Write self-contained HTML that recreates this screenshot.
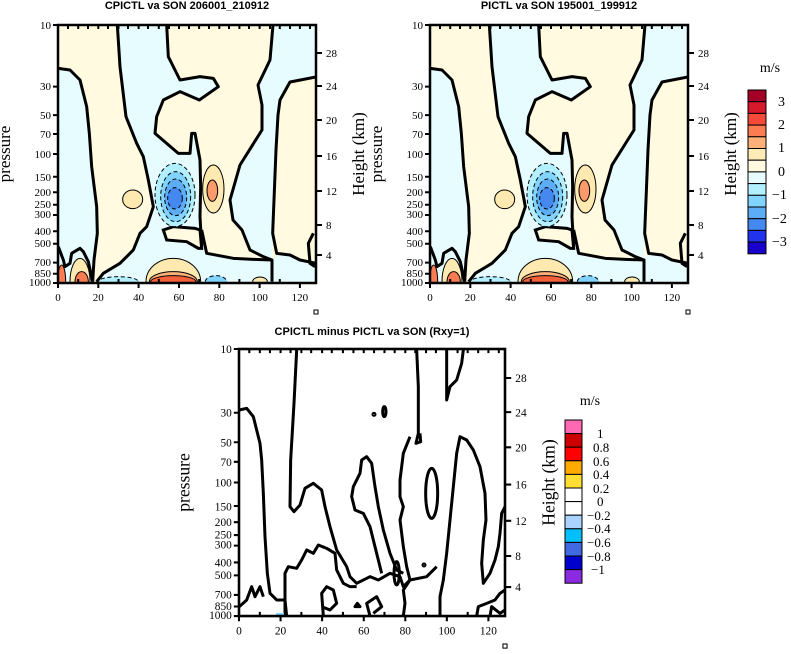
<!DOCTYPE html>
<html><head><meta charset="utf-8"><style>
html,body{margin:0;padding:0;background:#fff;overflow:hidden;}
svg text{font-family:"Liberation Serif",serif;}
</style></head><body>
<svg width="791" height="649" viewBox="0 0 791 649" xmlns="http://www.w3.org/2000/svg">
<defs>
<clipPath id="cp"><rect x="175" y="75" width="773" height="772"/></clipPath>
<clipPath id="cp2"><rect x="208" y="88" width="797" height="800"/></clipPath>
<g id="cont">
 <g transform="scale(0.33333)">
 <g clip-path="url(#cp)">
  <rect x="175" y="75" width="773" height="772" fill="#fffae0"/>
  <path fill="#e6fcff" d="M175,205 L210,210 L240,240 L260,320 L268,400 L275,500 L290,620 L292,700 L282,780 L278,845 L175,845 Z"/>
  <path fill="#e6fcff" d="M352,75 L500,75 L505,170 L540,240 L600,230 L640,235 L655,260 L598,300 L540,275 L490,300 L470,350 L465,400 L535,460 L570,460 L575,400 L585,400 L600,480 L602,560 L600,650 L605,690 L620,760 L700,775 L760,778 L816,780 L816,845 L290,845 L310,820 L360,790 L400,750 L420,700 L440,680 L460,620 L445,540 L430,470 L410,430 L378,350 L360,200 Z"/>
  <path fill="#e6fcff" d="M819,75 L948,75 L948,231 L870,246 L840,300 L834,345 L828,450 L822,600 L818,700 L816,780 L790,770 L750,750 L726,690 L699,660 L690,600 L720,495 L786,390 L786,315 L774,255 L810,180 Z"/>
  <path fill="#e6fcff" d="M816,780 L830,760 L870,765 L900,780 L948,790 L948,845 L816,845 Z"/>
  <path fill="#fffae0" d="M948,231 L870,246 L840,300 L834,345 L828,450 L822,600 L818,700 L830,760 L870,765 L900,780 L948,790 Z"/>
  <path fill="#fffae0" stroke="#000" stroke-width="9" d="M490,690 L520,680 L585,685 L600,690 L605,745 L595,745 L560,725 L500,720 Z"/>
  <ellipse cx="525" cy="585" rx="60" ry="95" fill="#b3f0ff" stroke="#000" stroke-width="3" stroke-dasharray="12,8"/>
  <ellipse cx="527" cy="590" rx="45" ry="75" fill="#80d4ff" stroke="#000" stroke-width="3" stroke-dasharray="12,8"/>
  <ellipse cx="527" cy="592" rx="33" ry="55" fill="#5cadf5" stroke="#000" stroke-width="3" stroke-dasharray="12,8"/>
  <ellipse cx="525" cy="595" rx="22" ry="32" fill="#4488f0" stroke="#000" stroke-width="3" stroke-dasharray="12,8"/>
  <ellipse cx="640" cy="567" rx="32" ry="72" fill="#fee9b0" stroke="#000" stroke-width="3"/>
  <ellipse cx="637" cy="572" rx="16" ry="32" fill="#fb9a6a" stroke="#000" stroke-width="3"/>
  <ellipse cx="398" cy="598" rx="30" ry="28" fill="#fee9b0" stroke="#000" stroke-width="3"/>
  <ellipse cx="520" cy="845" rx="82" ry="70" fill="#fee9b0" stroke="#000" stroke-width="3"/>
  <ellipse cx="520" cy="845" rx="72" ry="30" fill="#fdb07a" stroke="#000" stroke-width="3"/>
  <ellipse cx="520" cy="845" rx="68" ry="18" fill="#f5603a" stroke="#000" stroke-width="3"/>
  <ellipse cx="240" cy="845" rx="30" ry="70" fill="#fee9b0" stroke="#000" stroke-width="3"/>
  <ellipse cx="245" cy="845" rx="20" ry="30" fill="#fb7b52" stroke="#000" stroke-width="3"/>
  <ellipse cx="185" cy="845" rx="12" ry="50" fill="#fb7b52" stroke="#000" stroke-width="3"/>
  <ellipse cx="355" cy="845" rx="60" ry="15" fill="#b3f0ff" stroke="#000" stroke-width="3" stroke-dasharray="12,8"/>
  <ellipse cx="648" cy="845" rx="32" ry="18" fill="#80d4ff" stroke="#000" stroke-width="3" stroke-dasharray="12,8"/>
  <ellipse cx="780" cy="845" rx="22" ry="14" fill="#fee9b0" stroke="#000" stroke-width="3"/>
  <g fill="none" stroke="#000" stroke-width="9" stroke-linejoin="round">
   <path d="M175,205 L210,210 L240,240 L260,320 L268,400 L275,500 L290,620 L292,700 L282,780 L278,845"/>
   <path d="M352,75 L360,200 L378,350 L410,430 L430,470 L445,540 L460,620 L440,680 L420,700 L400,750 L360,790 L310,820 L290,845"/>
   <path d="M500,75 L505,170 L540,240 L600,230 L640,235 L655,260 L598,300 L540,275 L490,300 L470,350 L465,400 L535,460 L570,460 L575,400 L585,400 L600,480 L602,560 L600,650 L605,740"/>
   <path d="M605,690 L620,760 L700,775 L760,778 L816,780 L816,845"/>
   <path d="M819,75 L810,180 L774,255 L786,315 L786,390 L720,495 L690,600 L699,660 L726,690 L750,750 L790,770 L816,780"/>
   <path d="M948,231 L870,246 L840,300 L834,345 L828,450 L822,600 L818,700 L830,760 L870,765 L900,780 L948,790"/>
   <path d="M175,740 L190,780 L195,800 L210,790 L215,760 L240,745 L250,755 L265,785 L278,845"/>
   <path d="M940,700 L925,730 L930,790 L945,800"/>
  </g>
 </g>
 </g>
</g>
<g id="ax">
 <rect x="0" y="0" width="258" height="258" fill="none" stroke="#000" stroke-width="2.5"/>
 <g stroke="#000" stroke-width="2">
  <path d="M-5,0H0M-5,61.6H0M-5,90.1H0M-5,109H0M-5,129H0M-5,151.7H0M-5,167.3H0M-5,179.8H0M-5,190H0M-5,206.2H0M-5,218.7H0M-5,237.6H0M-5,248.8H0M-5,258H0"/>
  <path d="M0,258V263M40.3,258V263M80.6,258V263M121,258V263M161.3,258V263M201.6,258V263M241.9,258V263"/>
  <path d="M20.2,258V254M60.5,258V254M100.8,258V254M141.1,258V254M181.4,258V254M221.8,258V254"/>
  <path d="M10,0V4M20.2,0V4M30,0V4M40.3,0V4M50,0V4M60.5,0V4M70,0V4M80.6,0V4M90,0V4M100.8,0V4M111,0V4M121,0V4M131,0V4M141.1,0V4M151,0V4M161.3,0V4M171,0V4M181.4,0V4M191,0V4M201.6,0V4M212,0V4M221.8,0V4M232,0V4M241.9,0V4M252,0V4"/>
  <path d="M258,28H264M258,61H264M258,95H264M258,131H264M258,166H264M258,200H264M258,230H264"/>
 </g>
 <rect x="256" y="285" width="4" height="4" fill="none" stroke="#000" stroke-width="1"/>
 <g font-size="11" text-anchor="end">
  <text x="-7" y="4">10</text><text x="-7" y="65">30</text><text x="-7" y="94">50</text><text x="-7" y="113">70</text><text x="-7" y="133">100</text><text x="-7" y="156">150</text><text x="-7" y="171">200</text><text x="-7" y="183">250</text><text x="-7" y="193">300</text><text x="-7" y="210">400</text><text x="-7" y="222">500</text><text x="-7" y="241">700</text><text x="-7" y="252">850</text><text x="-7" y="261">1000</text>
 </g>
 <g font-size="11" text-anchor="middle">
  <text x="0" y="276">0</text><text x="40.3" y="276">20</text><text x="80.6" y="276">40</text><text x="121" y="276">60</text><text x="161.3" y="276">80</text><text x="201.6" y="276">100</text><text x="241.9" y="276">120</text>
 </g>
 <g font-size="11">
  <text x="268" y="32">28</text><text x="268" y="65">24</text><text x="268" y="99">20</text><text x="268" y="135">16</text><text x="268" y="170">12</text><text x="268" y="204">8</text><text x="268" y="234">4</text>
 </g>
 <text transform="translate(-48,129) rotate(-90)" font-size="17" text-anchor="middle">pressure</text>
 <text transform="translate(306,129) rotate(-90)" font-size="17" text-anchor="middle">Height (km)</text>
</g>
</defs>

<use href="#cont"/>
<use href="#cont" transform="translate(372,0)"/>
<g transform="translate(58,25)"><use href="#ax"/></g>
<g transform="translate(430,25)"><use href="#ax"/></g>

<g font-weight="bold" font-size="11" text-anchor="middle">
<text x="187" y="9" style="font-family:'Liberation Sans',sans-serif">CPICTL va SON 206001_210912</text>
<text x="559" y="9" style="font-family:'Liberation Sans',sans-serif">PICTL va SON 195001_199912</text>
<text x="372" y="335" style="font-family:'Liberation Sans',sans-serif">CPICTL minus PICTL va SON (Rxy=1)</text>
</g>

<g transform="translate(170,320) scale(0.33333)">
 <g clip-path="url(#cp2)" fill="none" stroke="#000" stroke-width="9" stroke-linejoin="round">
  <path d="M380,90 L372,250 L362,420 L360,560 L372,575 L390,555 L405,505 L430,490 L455,510 L465,560 L480,620 L500,690 L530,740 L540,770 L560,790 L600,770 L625,780 L660,760 L690,770 L700,800 L720,780 L770,770 L800,740"/>
  <path d="M208,270 L230,265 L250,290 L260,330 L270,370 L275,420 L280,520 L285,650 L292,760 L300,820 L320,840 L345,840 L350,888"/>
  <path d="M208,860 L230,840 L245,800 L255,830 L270,800 L280,830"/>
  <path d="M345,888 L345,760 L355,740 L380,745 L395,720 L410,690 L430,700 L445,675 L470,685 L495,700 L500,750 L520,790 L540,800 L560,800"/>
  <path d="M460,888 L455,820 L470,800 L490,810 L500,850 L480,870 L455,860"/>
  <path d="M600,888 L590,850 L620,830 L635,860 L610,880"/>
  <path d="M635,760 L620,700 L600,620 L580,580 L555,570 L545,530 L550,500 L570,460 L575,420 L590,410 L605,430 L615,500 L625,560 L640,630 L660,700 L680,750 L700,760"/>
  <path d="M740,90 L745,200 L745,340 L738,370 L752,365 L750,340"/>
  <path d="M720,350 L700,400 L690,480 L690,530 L700,560 L690,600 L700,680 L710,740 L720,780 L700,810 L705,850 L700,888"/>
  <path d="M830,90 L830,240 L840,200 L860,180 L875,130 L880,90"/>
  <ellipse cx="785" cy="520" rx="18" ry="75"/>
  <path d="M810,888 L810,830 L820,780 L830,700 L840,600 L850,500 L860,400 L870,350 L890,360 L910,390 L930,440 L945,520 L948,600 L940,660 L935,730 L940,790 L960,760 L975,720 L985,680 L990,640 L995,580 L1005,560"/>
  <path d="M920,888 L925,860 L950,850 L975,840 L990,820 L1005,810"/>
  <path d="M960,888 L965,860 L990,880 L1005,870"/>
  <ellipse cx="680" cy="760" rx="8" ry="35"/>
  <ellipse cx="643" cy="275" rx="5" ry="15"/>
  <circle cx="612" cy="283" r="3"/>
  <circle cx="762" cy="735" r="3"/>
  <path d="M555,860 L562,850 L570,860Z" fill="#000"/>
 </g>
</g>
<rect x="276" y="613" width="8" height="3" fill="#80d4ff"/>
<g transform="translate(239,349) scale(1.031,1.035)"><use href="#ax"/></g>

<text x="770" y="72" font-size="14" text-anchor="middle">m/s</text>
<g stroke="#000" stroke-width="1">
<rect x="748" y="90" width="18" height="11.7" fill="#a50026"/>
<rect x="748" y="101.7" width="18" height="11.7" fill="#d7192c"/>
<rect x="748" y="113.4" width="18" height="11.7" fill="#f54a3a"/>
<rect x="748" y="125.1" width="18" height="11.7" fill="#fb7b52"/>
<rect x="748" y="136.8" width="18" height="11.7" fill="#fdb07a"/>
<rect x="748" y="148.5" width="18" height="11.7" fill="#feecb8"/>
<rect x="748" y="160.2" width="18" height="11.7" fill="#fffae0"/>
<rect x="748" y="171.9" width="18" height="11.7" fill="#e6fcff"/>
<rect x="748" y="183.6" width="18" height="11.7" fill="#b3f0ff"/>
<rect x="748" y="195.3" width="18" height="11.7" fill="#80d4ff"/>
<rect x="748" y="207" width="18" height="11.7" fill="#5cadf5"/>
<rect x="748" y="218.7" width="18" height="11.7" fill="#4488f0"/>
<rect x="748" y="230.4" width="18" height="11.7" fill="#2233ee"/>
<rect x="748" y="242.1" width="18" height="11.7" fill="#1a00cc"/>
</g>
<g font-size="14">
<text x="778" y="106">3</text><text x="778" y="129">2</text><text x="778" y="152">1</text><text x="778" y="176">0</text><text x="772" y="199">−1</text><text x="772" y="223">−2</text><text x="772" y="246">−3</text>
</g>

<text x="590" y="405" font-size="14" text-anchor="middle">m/s</text>
<g stroke="#000" stroke-width="1">
<rect x="565" y="420" width="17" height="13.6" fill="#ff69b4"/>
<rect x="565" y="433.6" width="17" height="13.6" fill="#cc0000"/>
<rect x="565" y="447.2" width="17" height="13.6" fill="#ff0000"/>
<rect x="565" y="460.8" width="17" height="13.6" fill="#ffaa00"/>
<rect x="565" y="474.4" width="17" height="13.6" fill="#ffdd33"/>
<rect x="565" y="488" width="17" height="13.6" fill="#ffffff"/>
<rect x="565" y="501.6" width="17" height="13.6" fill="#ffffff"/>
<rect x="565" y="515.2" width="17" height="13.6" fill="#aad4ff"/>
<rect x="565" y="528.8" width="17" height="13.6" fill="#00bfff"/>
<rect x="565" y="542.4" width="17" height="13.6" fill="#4169e1"/>
<rect x="565" y="556" width="17" height="13.6" fill="#0000cd"/>
<rect x="565" y="569.6" width="17" height="13.6" fill="#8a2be2"/>
</g>
<g font-size="13">
<text x="597" y="438">1</text><text x="593" y="452">0.8</text><text x="593" y="466">0.6</text><text x="593" y="479">0.4</text><text x="593" y="493">0.2</text><text x="597" y="506">0</text><text x="587" y="520">−0.2</text><text x="587" y="533">−0.4</text><text x="587" y="547">−0.6</text><text x="587" y="561">−0.8</text><text x="591" y="574">−1</text>
</g>
</svg>
</body></html>
